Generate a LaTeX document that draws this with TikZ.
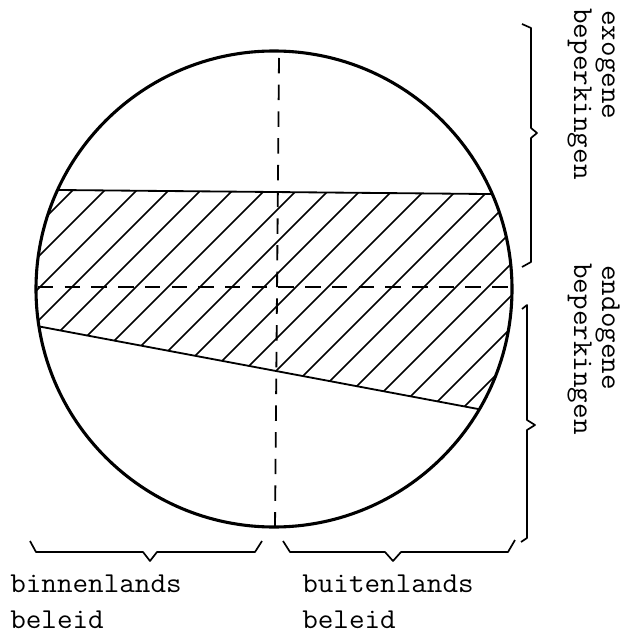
\documentclass[tikz,border=0pt]{standalone}
\usepackage{tikz}
\newcommand{\typew}[1]{\scalebox{1.05}[1]{#1}}
\begin{document}
\begin{tikzpicture}[x=0.025cm,y=-0.025cm,
  every node/.style={font=\fontsize{20.5}{24}\selectfont\ttfamily, inner sep=0pt},
  rim/.style={line width=2.2pt},
  chord/.style={line width=1.3pt},
  hatch/.style={line width=1.1pt},
  axis/.style={line width=1.3pt, dash pattern=on 11pt off 8pt},
  bracket/.style={line width=1.2pt, line join=round}]
  \useasboundingbox (0,0) rectangle (636,636);

  % circle with the shaded band
  \coordinate (M) at (274,289);
  \begin{scope}
    \clip (M) circle[radius=238];
    \draw[chord] (0,189.45) -- (636,195.4);
    \draw[chord] (0,319.1) -- (636,438.7);
    \clip (0,189.45) -- (636,195.4) -- (636,438.7) -- (0,319.1) -- cycle;
    \foreach \k in {-2,...,22}
      \draw[hatch] ({73+32*\k-300},490) -- ({73+32*\k+300},-110);
  \end{scope}
  \draw[rim] (M) circle[radius=238];

  % axes
  \draw[axis] (38,287) -- (513,287);
  \draw[axis] (279,58) -- (275,527);

  % braces right
  \draw[bracket] (522,24) -- (531,28) -- (531,128) -- (537,133) -- (531,138) -- (531,262) -- (522,267);
  \draw[bracket] (522,309) -- (527,305) -- (527,420) -- (535,425) -- (527,430) -- (527,538) -- (521,542);
  % braces below
  \draw[bracket] (30,541) -- (36,552) -- (143,552) -- (150,561) -- (157,552) -- (255,552) -- (262,541);
  \draw[bracket] (283,541) -- (290,552) -- (385,552) -- (393,561) -- (401,552) -- (508,552) -- (515,540);

  % labels
  \node[rotate=-90, anchor=base west] (exo) at (602,10) {\typew{exogene}};
  \node[rotate=-90, anchor=base west] (exobep) at (574,8) {\typew{beperkingen}};
  \node[rotate=-90, anchor=base west] (endo) at (602,265) {\typew{endogene}};
  \node[rotate=-90, anchor=base west] (endobep) at (574,263) {\typew{beperkingen}};
  \node[anchor=base west] (binnen) at (10,592) {\typew{binnenlands}};
  \node[anchor=base west] (binnenbel) at (10,628) {\typew{beleid}};
  \node[anchor=base west] (buiten) at (302,592) {\typew{buitenlands}};
  \node[anchor=base west] (buitenbel) at (302,628) {\typew{beleid}};
\end{tikzpicture}
\end{document}
